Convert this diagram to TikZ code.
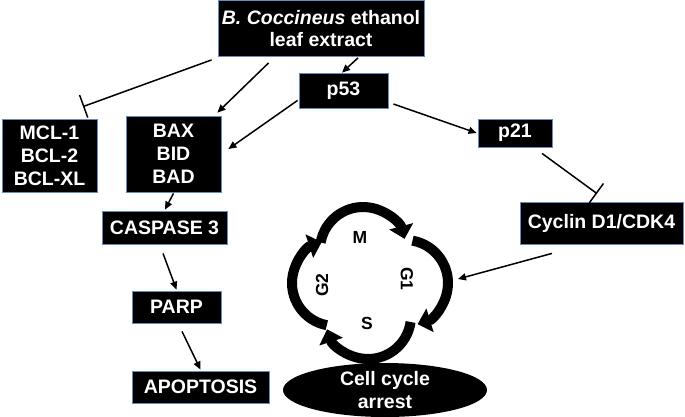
\documentclass[tikz,border=0pt]{standalone}
\usepackage{fontspec}
\setmainfont{Liberation Sans}
\usetikzlibrary{arrows.meta,shapes.geometric,calc}
\definecolor{boxblue}{RGB}{100,140,190}
\begin{document}
\begin{tikzpicture}[x=1pt,y=-1pt,
  box/.style={draw=boxblue, line width=0.8pt, fill=black, text=white,
    font=\bfseries\fontsize{19.5}{23}\selectfont, align=center, inner sep=0pt},
  conn/.style={line width=1.5pt, -{Triangle[length=8pt,width=7pt]}},
  inhib/.style={line width=1.5pt, -{Bar[width=24pt]}},
  phase/.style={line width=10pt, -{Triangle[length=13pt,width=24pt]}},
  lbl/.style={font=\bfseries\fontsize{17.5}{20}\selectfont, inner sep=0pt}]
\useasboundingbox (0,0) rectangle (685,416);
\fill[white] (0,0) rectangle (685,416);

% boxes
\node[box, minimum width=206pt, minimum height=56pt] (top) at (321,28.5) {\textit{B. Coccineus} ethanol\\[-1pt]leaf extract};
\node[box, minimum width=89pt, minimum height=35pt] (p53) at (343.5,90.5) {p53};
\node[box, minimum width=95pt, minimum height=73pt] (mcl) at (49.5,155.5) {MCL-1\\BCL-2\\BCL-XL};
\node[box, minimum width=95pt, minimum height=76pt] (bax) at (173.5,154) {BAX\\BID\\BAD};
\node[box, minimum width=125pt, minimum height=33pt] (casp) at (164.5,227.5) {CASPASE 3};
\node[box, minimum width=74pt, minimum height=28pt] (p21) at (515,133) {p21};
\node[box, minimum width=163pt, minimum height=42pt] (cyc) at (601.5,223) {Cyclin D1/CDK4};
\node[box, minimum width=89pt, minimum height=32pt] (parp) at (176.5,307) {PARP};
\node[box, minimum width=137pt, minimum height=32pt] (apop) at (200.5,387) {APOPTOSIS};
\node[box, draw=none, ellipse, minimum width=204pt, minimum height=54pt] (arrest) at (385,390) {Cell cycle\\arrest};

% connectors
\draw[inhib] ($(top.south west)+(-6,3)$) -- ($(mcl.north)+(33.5,-12)$);
\draw[conn] ($(top.south west)+(51,6)$) -- ($(bax.north east)+(-4,-3)$);
\draw[conn] ($(top.south)+(37,1)$) -- ($(p53.north)+(-1.5,0)$);
\draw[conn] ($(p53.south west)+(-1,-8)$) -- ($(bax.east)+(7,-5)$);
\draw[conn] ($(p53.east)+(5,13.5)$) -- ($(p21.west)+(-1,0)$);
\draw[inhib] ($(p21.south)+(27,6)$) -- ($(cyc.north)+(-4.5,-8)$);
\coordinate (cycin) at (458,279);
\draw[conn] ($(cyc.south)+(-49.5,9)$) -- (cycin);
\draw[conn] ($(bax.south)+(0,1)$) -- ($(casp.north)+(0.5,-1)$);
\draw[conn] ($(casp.south)+(-1.5,9)$) -- ($(parp.north)+(0,-1)$);
\draw[conn] ($(parp.south)+(5.5,8)$) -- ($(apop.north)+(0,-1)$);

% cell cycle
\coordinate (O) at (368,283);
\coordinate (lt) at ($(O)+(-5,-33)$);
\coordinate (lr) at ($(O)+(37,0)$);
\coordinate (lb) at ($(O)+(0,33)$);
\coordinate (ll) at ($(O)+(-33,0)$);
\draw[phase] (lt) ++(190:43) arc[start angle=190, end angle=345, radius=43];
\draw[phase] (lr) ++(-80:43) arc[start angle=-80, end angle=73, radius=43];
\draw[phase] (lb) ++(8:43) arc[start angle=8, end angle=162, radius=43];
\draw[phase] (ll) ++(101:43) arc[start angle=101, end angle=252, radius=43];

\node[lbl] (m) at (360,237) {M};
\node[lbl, rotate=-90] (g1) at (407,279) {G1};
\node[lbl] (s) at (367,323) {S};
\node[lbl, rotate=90] (g2) at (322,285) {G2};
\end{tikzpicture}
\end{document}
